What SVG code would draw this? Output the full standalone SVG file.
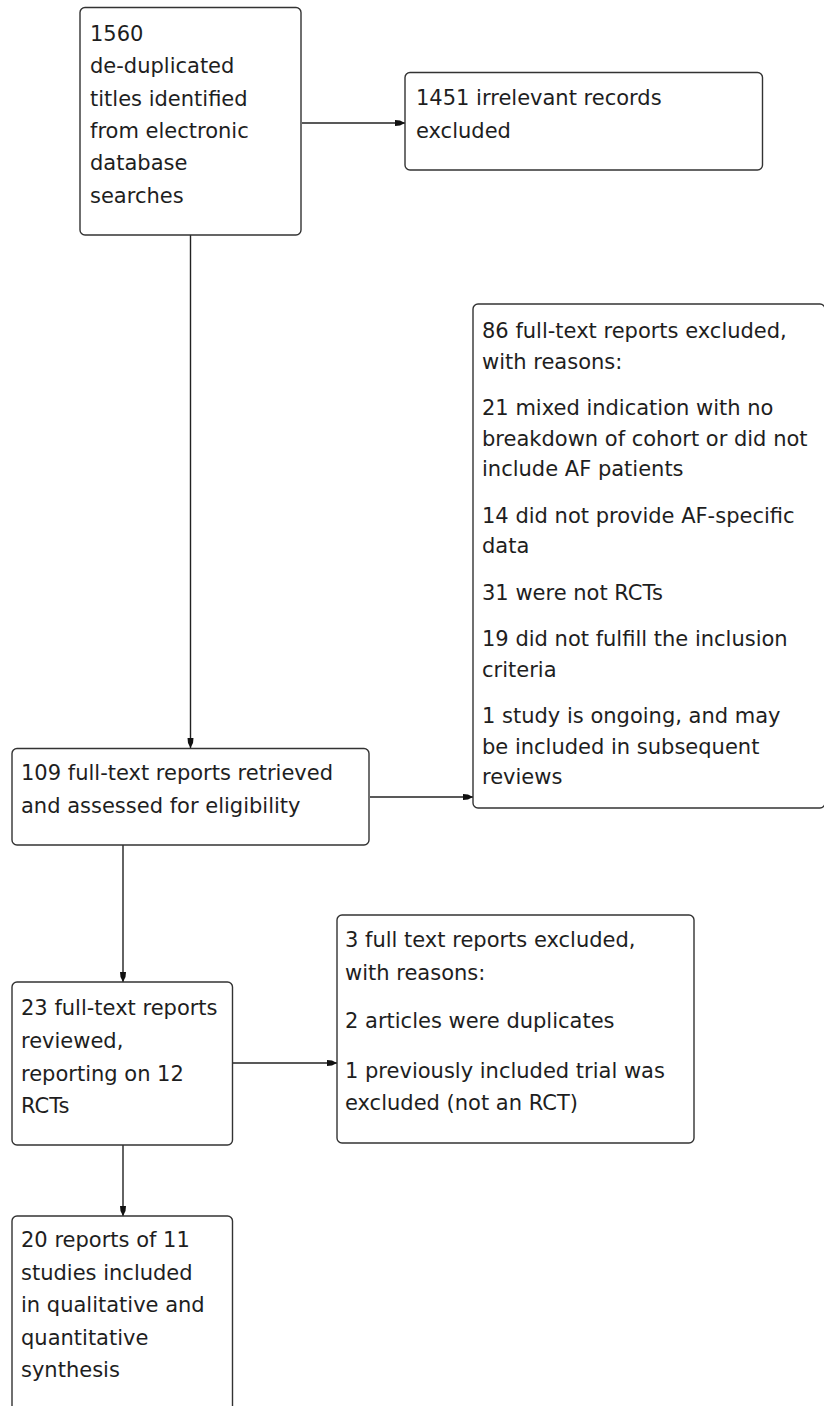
<svg xmlns="http://www.w3.org/2000/svg" width="824" height="1406" viewBox="0 0 824 1406">
<defs>
<style>
.box{fill:#fff;stroke:#333;stroke-width:1.4}
.t{font-family:"DejaVu Sans",Verdana,sans-serif;font-size:21px;fill:#1e1e1e}
.c{fill:none;stroke:#222;stroke-width:1.4}
</style>
<marker id="ah" markerUnits="userSpaceOnUse" markerWidth="11" markerHeight="8" refX="10" refY="4" orient="auto">
<path d="M0,1 L5,1.5 L10,4 L5,6.5 L0,7 Z" fill="#111"/>
</marker>
</defs>
<rect width="824" height="1406" fill="#fff"/>
<g id="connectors">
<line class="c" x1="302" y1="123" x2="405" y2="123" marker-end="url(#ah)"/>
<line class="c" x1="190.5" y1="235" x2="190.5" y2="748" marker-end="url(#ah)"/>
<line class="c" x1="370" y1="797" x2="473" y2="797" marker-end="url(#ah)"/>
<line class="c" x1="123" y1="845" x2="123" y2="982" marker-end="url(#ah)"/>
<line class="c" x1="233" y1="1063" x2="337" y2="1063" marker-end="url(#ah)"/>
<line class="c" x1="123" y1="1145" x2="123" y2="1216" marker-end="url(#ah)"/>
</g>
<g id="n1">
<rect class="box" x="80" y="7.5" width="221" height="227.5" rx="5"/>
<text class="t" x="90" y="41">1560</text>
<text class="t" x="90" y="73">de-duplicated</text>
<text class="t" x="90" y="105.5">titles identified</text>
<text class="t" x="90" y="138">from electronic</text>
<text class="t" x="90" y="170">database</text>
<text class="t" x="90" y="202.5">searches</text>
</g>
<g id="n2">
<rect class="box" x="405" y="72.5" width="357.5" height="97.5" rx="5"/>
<text class="t" x="416" y="105">1451 irrelevant records</text>
<text class="t" x="416" y="137.5">excluded</text>
</g>
<g id="n3">
<rect class="box" x="473" y="304" width="352" height="504" rx="5"/>
<text class="t" x="482" y="338">86 full-text reports excluded,</text>
<text class="t" x="482" y="368.5">with reasons:</text>
<text class="t" x="482" y="415">21 mixed indication with no</text>
<text class="t" x="482" y="445.5">breakdown of cohort or did not</text>
<text class="t" x="482" y="476">include AF patients</text>
<text class="t" x="482" y="522.5">14 did not provide AF-specific</text>
<text class="t" x="482" y="553">data</text>
<text class="t" x="482" y="599.5">31 were not RCTs</text>
<text class="t" x="482" y="646">19 did not fulfill the inclusion</text>
<text class="t" x="482" y="676.5">criteria</text>
<text class="t" x="482" y="723">1 study is ongoing, and may</text>
<text class="t" x="482" y="753.5">be included in subsequent</text>
<text class="t" x="482" y="784">reviews</text>
</g>
<g id="n4">
<rect class="box" x="12" y="748.5" width="357" height="96.5" rx="5"/>
<text class="t" x="21" y="780">109 full-text reports retrieved</text>
<text class="t" x="21" y="813">and assessed for eligibility</text>
</g>
<g id="n5">
<rect class="box" x="12" y="982" width="220.5" height="163" rx="5"/>
<text class="t" x="21" y="1015">23 full-text reports</text>
<text class="t" x="21" y="1048">reviewed,</text>
<text class="t" x="21" y="1081">reporting on 12</text>
<text class="t" x="21" y="1113">RCTs</text>
</g>
<g id="n6">
<rect class="box" x="337" y="915" width="357" height="228" rx="5"/>
<text class="t" x="345" y="947">3 full text reports excluded,</text>
<text class="t" x="345" y="979.5">with reasons:</text>
<text class="t" x="345" y="1028">2 articles were duplicates</text>
<text class="t" x="345" y="1077.5">1 previously included trial was</text>
<text class="t" x="345" y="1110">excluded (not an RCT)</text>
</g>
<g id="n7">
<rect class="box" x="12" y="1216" width="220.5" height="220" rx="5"/>
<text class="t" x="21" y="1247">20 reports of 11</text>
<text class="t" x="21" y="1280">studies included</text>
<text class="t" x="21" y="1312">in qualitative and</text>
<text class="t" x="21" y="1345">quantitative</text>
<text class="t" x="21" y="1377">synthesis</text>
</g>
</svg>
